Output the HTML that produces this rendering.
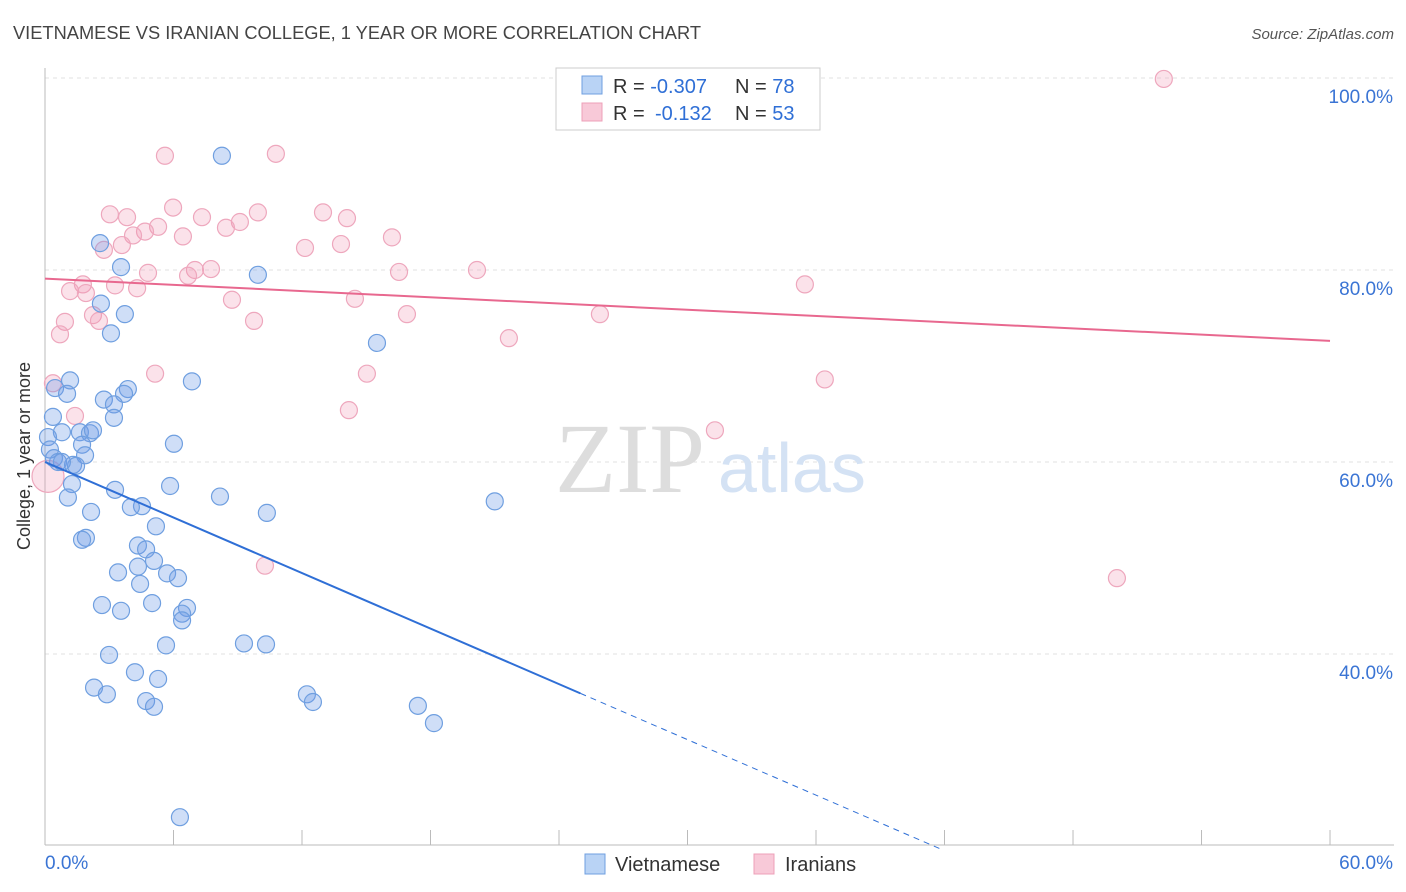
<!DOCTYPE html>
<html><head><meta charset="utf-8"><style>
body{margin:0;background:#fff;font-family:"Liberation Sans",sans-serif;}
svg{display:block}
</style></head><body>
<svg id="chart" width="1406" height="892">
<text x="13" y="39" font-size="18" fill="#444" textLength="688" lengthAdjust="spacingAndGlyphs">VIETNAMESE VS IRANIAN COLLEGE, 1 YEAR OR MORE CORRELATION CHART</text>
<text x="1394" y="39" font-size="15" fill="#555" font-style="italic" text-anchor="end">Source: ZipAtlas.com</text>
<text x="30" y="456" font-size="18" fill="#333" text-anchor="middle" transform="rotate(-90 30 456)">College, 1 year or more</text>
<g id="grid"></g>
<text x="555" y="492" font-size="100" fill="#ddd" font-family="Liberation Serif,serif">ZIP</text>
<text x="718" y="492" font-size="70" fill="#d4e2f4">atlas</text>
<g id="marks"></g>
<g>
<rect x="556" y="68" width="264" height="62" fill="#fff" stroke="#ccc"/>
<rect x="582" y="76" width="20" height="18" fill="#b9d3f5" stroke="#6f9fe0"/>
<rect x="582" y="103" width="20" height="18" fill="#f8c9d8" stroke="#eea0b8"/>
<text x="613" y="93" font-size="20" fill="#333">R = <tspan fill="#2f6fd6">-0.307</tspan><tspan x="735">N = </tspan><tspan fill="#2f6fd6">78</tspan></text>
<text x="613" y="120" font-size="20" fill="#333">R = <tspan x="655" fill="#2f6fd6">-0.132</tspan><tspan x="735">N = </tspan><tspan fill="#2f6fd6">53</tspan></text>
</g>
<g>
<rect x="585" y="854" width="20" height="20" fill="#b9d3f5" stroke="#6f9fe0"/>
<text x="615" y="871" font-size="20" fill="#333">Vietnamese</text>
<rect x="754" y="854" width="20" height="20" fill="#f8c9d8" stroke="#eea0b8"/>
<text x="785" y="871" font-size="20" fill="#333">Iranians</text>
</g>
</svg>
<script>
const yTicks=[100,80,60,40];
const yTickLabels=["100.0%","80.0%","60.0%","40.0%"];
const xTicks=[0,6,12,18,24,30,36,42,48,54,60];
const xEndLabels=["0.0%","60.0%"];
const blueX=[8.26,2.57,3.55,9.94,2.61,3.73,3.08,15.5,1.17,6.86,0.47,1.03,3.87,2.75,3.69,3.22,0.37,3.22,0.79,0.14,1.63,2.10,2.24,6.02,1.73,0.23,1.87,0.42,0.61,1.31,1.45,0.79,1.26,5.84,3.27,8.17,1.07,21.0,4.53,4.01,2.15,10.36,5.18,1.91,1.73,4.34,4.72,5.09,4.34,3.41,5.70,6.21,4.44,2.66,5.00,6.63,3.55,6.40,6.40,5.65,9.29,10.32,2.99,4.20,5.28,2.29,2.89,12.23,12.51,4.72,5.09,17.41,18.16,6.30];
const blueY=[91.9,82.8,80.3,79.5,76.5,75.4,73.4,72.4,68.5,68.4,67.7,67.1,67.6,66.5,67.1,66.0,64.7,64.6,63.1,62.6,63.1,63.0,63.3,61.9,61.8,61.3,60.7,60.4,60.0,59.7,59.6,60.0,57.7,57.5,57.1,56.4,56.3,55.9,55.4,55.3,54.8,54.7,53.3,52.1,51.9,51.3,50.9,49.7,49.1,48.5,48.4,47.9,47.3,45.1,45.3,44.8,44.5,44.2,43.5,40.9,41.1,41.0,39.9,38.1,37.4,36.5,35.8,35.8,35.0,35.1,34.5,34.6,32.8,23.0];
const pinkX=[52.24,5.60,10.78,3.03,3.83,5.98,7.33,9.94,12.98,14.10,9.10,5.28,4.67,6.44,8.45,4.11,16.20,2.75,3.59,12.14,13.82,4.81,7.00,7.75,20.17,16.53,6.68,1.77,3.27,1.17,4.30,1.91,35.48,8.73,14.47,2.24,0.93,2.52,9.76,16.90,25.91,0.70,21.66,5.14,15.03,36.41,0.37,14.19,1.40,31.28,10.27,50.05,0.14];
const pinkY=[99.9,91.9,92.1,85.8,85.5,86.5,85.5,86.0,86.0,85.4,85.0,84.5,84.0,83.5,84.4,83.6,83.4,82.1,82.6,82.3,82.7,79.7,80.0,80.1,80.0,79.8,79.4,78.5,78.4,77.8,78.1,77.6,78.5,76.9,77.0,75.3,74.6,74.7,74.7,75.4,75.4,73.3,72.9,69.2,69.2,68.6,68.2,65.4,64.8,63.3,49.2,47.9,58.5];
const blueTrend=[60.0,-0.964]; // intercept, slope
const pinkTrend=[79.1,-0.108];
const blueSolidEnd=25, blueDashEnd=41.9;

const NS="http://www.w3.org/2000/svg";
const xs=v=>45+v*21.417;
const ys=v=>78+(100-v)*9.6;
function mk(tag,attrs,parent){const e=document.createElementNS(NS,tag);for(const k in attrs)e.setAttribute(k,attrs[k]);parent.appendChild(e);return e;}
const grid=document.getElementById('grid'), marks=document.getElementById('marks');
yTicks.forEach((t,i)=>{
 const l=mk('line',{x1:45,x2:1394,y1:ys(t),y2:ys(t),stroke:'#e2e2e2','stroke-dasharray':'4,4'},grid);
 
 
 const tx=mk('text',{x:1393,y:ys(t)+25,'font-size':19,fill:'#3a74d4','text-anchor':'end'},grid);
 tx.textContent=yTickLabels[i];
 
 
});
let ax=mk('line',{x1:45,x2:45,y1:68,y2:845,stroke:'#bbb'},grid);


ax=mk('line',{x1:45,x2:1394,y1:845,y2:845,stroke:'#bbb'},grid);


xTicks.forEach(t=>{
 const l=mk('line',{x1:xs(t),x2:xs(t),y1:830,y2:845,stroke:'#bbb'},grid);
 
 
});
[[0,'start',45],[60,'end',1393]].forEach((d,i)=>{
 const tx=mk('text',{x:d[2],y:869,'font-size':19,fill:'#3a74d4','text-anchor':d[1]},grid);
 tx.textContent=xEndLabels[i];
 
 
});
pinkX.forEach((x,i)=>{
 const r=(i===pinkX.length-1)?16:8.5;
 const c=mk('circle',{cx:xs(x),cy:ys(pinkY[i]),r:r,fill:'rgba(240,150,180,0.28)',stroke:'#eea7bd','stroke-width':1.2},marks);
 
 
});
blueX.forEach((x,i)=>{
 const c=mk('circle',{cx:xs(x),cy:ys(blueY[i]),r:8.5,fill:'rgba(110,155,230,0.33)',stroke:'#6f9fe0','stroke-width':1.2},marks);
 
 
});
const bt=x=>blueTrend[0]+blueTrend[1]*x, pt=x=>pinkTrend[0]+pinkTrend[1]*x;
let t=mk('line',{x1:xs(0),y1:ys(bt(0)),x2:xs(blueSolidEnd),y2:ys(bt(blueSolidEnd)),stroke:'#2f6fd6','stroke-width':2},marks);


t=mk('line',{x1:xs(blueSolidEnd),y1:ys(bt(blueSolidEnd)),x2:xs(blueDashEnd),y2:ys(bt(blueDashEnd)),stroke:'#2f6fd6','stroke-width':1,'stroke-dasharray':'6,5'},marks);


t=mk('line',{x1:xs(0),y1:ys(pt(0)),x2:xs(60),y2:ys(pt(60)),stroke:'#e8688f','stroke-width':2},marks);


</script>
</body></html>
